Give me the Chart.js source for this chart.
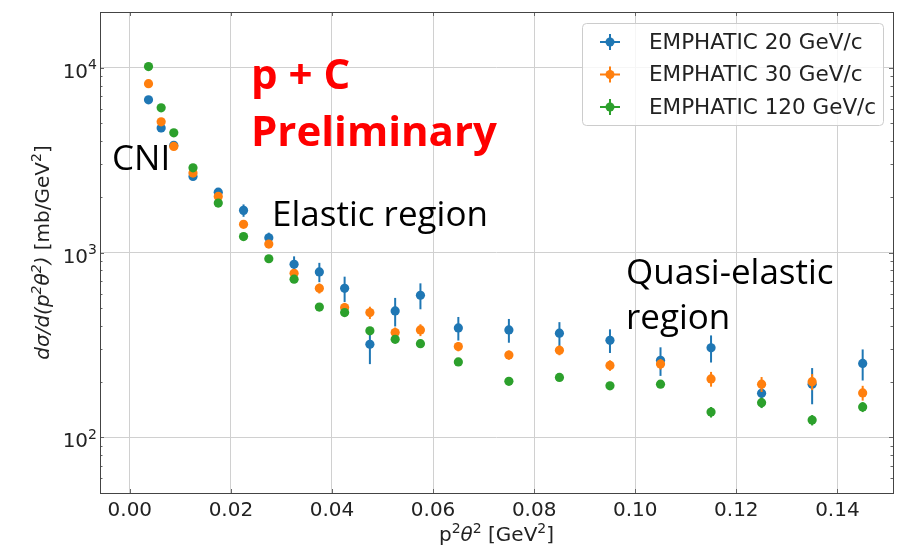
<!DOCTYPE html>
<html>
<head>
<meta charset="utf-8">
<script src="https://cdn.jsdelivr.net/npm/chart.js@4"></script>
<style>
  html, body { margin: 0; padding: 0; background: #fff; }
</style>
</head>
<body>
<canvas id="emphaticPC" width="900" height="547"></canvas>
<script>
// p^2 theta^2 bin centres [GeV^2]
const xValues = [0.0037, 0.0062, 0.0087, 0.0125, 0.0175, 0.0225, 0.0275, 0.0325, 0.0375, 0.0425, 0.0475,
                 0.0525, 0.0575, 0.065, 0.075, 0.085, 0.095, 0.105, 0.115, 0.125, 0.135, 0.145];

// dsigma/d(p^2 theta^2) [mb/GeV^2]
const emphatic20 = [6700, 4720, 3800, 2580, 2120, 1690, 1200, 863, 785, 640, 319,
                    483, 587, 391, 381, 366, 335, 261, 305, 173, 194, 251];
const emphatic30 = [8190, 5090, 3750, 2690, 2010, 1420, 1110, 772, 640, 504, 473,
                    369, 381, 310, 279, 296, 245, 249, 207, 194, 200, 174];
const emphatic120 = [10130, 6060, 4440, 2870, 1850, 1220, 925, 717, 507, 473, 377,
                     339, 321, 256, 201, 211, 190, 194, 137, 154, 124, 146];

// errors
const err20 = [250, 240, 200, 110, 110, 130, 80, 90, 94, 100, 70,
               85, 94, 57, 56, 54, 49, 46, 51, 28, 43, 48];
const err30 = [250, 180, 150, 90, 70, 60, 45, 40, 40, 30, 36,
               24, 28, 18, 16, 18, 16, 16, 19, 18, 20, 16];
const err120 = [200, 150, 110, 70, 50, 35, 25, 20, 15, 15, 14,
                12, 12, 9, 8, 8, 8, 8, 9, 10, 8, 9];

const seriesLabels = ["EMPHATIC 20 GeV/c", "EMPHATIC 30 GeV/c", "EMPHATIC 120 GeV/c"];
const seriesColors = ["#1f77b4", "#ff7f0e", "#2ca02c"];

const xTicks = [0, 0.02, 0.04, 0.06, 0.08, 0.1, 0.12, 0.14];
const yTicks = [100, 1000, 10000];
const yTickExp = ["2", "3", "4"];

const DV = "'DejaVu Sans'";
const ANNO = "'Open Sans'";

function punkte(werte) {
    return werte.map((v, i) => ({ x: xValues[i], y: v }));
}

function runFont(r, size) {
    return (r.italic ? "italic " : "") + (r.sup ? size * 0.7 : size) + "px " + DV;
}

// text made of runs (italic / superscript), baseline at y
function drawRuns(ctx, runs, x, y, size, align) {
    let total = 0;
    runs.forEach(r => {
        ctx.font = runFont(r, size);
        r.w = ctx.measureText(r.t).width;
        total += r.w;
    });
    let cx = align === "right" ? x - total : x - total / 2;
    ctx.textAlign = "left";
    ctx.textBaseline = "alphabetic";
    runs.forEach(r => {
        ctx.font = runFont(r, size);
        ctx.fillText(r.t, cx, r.sup ? y - size * 0.42 : y);
        cx += r.w;
    });
}

const errorBars = {
    id: "errorBars",
    beforeDatasetDraw(chart, args) {
        const ds = chart.data.datasets[args.index];
        const xs = chart.scales.x, ys = chart.scales.y;
        const ctx = chart.ctx;
        ctx.save();
        ctx.strokeStyle = ds.backgroundColor;
        ctx.lineWidth = 2;
        ds.data.forEach((p, i) => {
            const e = ds.errors[i];
            const px = xs.getPixelForValue(p.x);
            ctx.beginPath();
            ctx.moveTo(px, ys.getPixelForValue(Math.max(p.y - e, 1)));
            ctx.lineTo(px, ys.getPixelForValue(p.y + e));
            ctx.stroke();
        });
        ctx.restore();
    }
};

const rahmen = {
    id: "rahmen",
    afterDraw(chart) {
        const ctx = chart.ctx;
        const a = chart.chartArea;
        const xs = chart.scales.x, ys = chart.scales.y;
        ctx.save();

        // inward ticks on all four sides
        ctx.strokeStyle = "#666";
        ctx.lineWidth = 1;
        xTicks.forEach(v => {
            const px = Math.round(xs.getPixelForValue(v)) + 0.5;
            ctx.beginPath();
            ctx.moveTo(px, a.bottom); ctx.lineTo(px, a.bottom - 4);
            ctx.moveTo(px, a.top); ctx.lineTo(px, a.top + 4);
            ctx.stroke();
        });
        for (let k = 1; k <= 4; k++) {
            for (let m = 1; m <= 9; m++) {
                const v = m * Math.pow(10, k);
                if (v < ys.min || v > ys.max) continue;
                const py = Math.round(ys.getPixelForValue(v)) + 0.5;
                const len = m === 1 ? 4 : 2.5;
                ctx.beginPath();
                ctx.moveTo(a.left, py); ctx.lineTo(a.left + len, py);
                ctx.moveTo(a.right, py); ctx.lineTo(a.right - len, py);
                ctx.stroke();
            }
        }

        // spines
        ctx.strokeStyle = "#444";
        ctx.strokeRect(Math.round(a.left) + 0.5, Math.round(a.top) + 0.5,
                       Math.round(a.right - a.left), Math.round(a.bottom - a.top));

        // y tick labels 10^n
        ctx.fillStyle = "#222";
        yTicks.forEach((v, i) => {
            const py = ys.getPixelForValue(v);
            drawRuns(ctx, [{ t: "10" }, { t: yTickExp[i], sup: true }], a.left - 3, py + 10, 20, "right");
        });

        // axis titles
        drawRuns(ctx, [{ t: "p" }, { t: "2", sup: true }, { t: "θ", italic: true }, { t: "2", sup: true },
                       { t: " [GeV" }, { t: "2", sup: true }, { t: "]" }],
                 (a.left + a.right) / 2, 541, 20);
        ctx.save();
        ctx.translate(49, (a.top + a.bottom) / 2);
        ctx.rotate(-Math.PI / 2);
        drawRuns(ctx, [{ t: "dσ/d(p", italic: true }, { t: "2", sup: true, italic: true },
                       { t: "θ", italic: true }, { t: "2", sup: true, italic: true }, { t: ")", italic: true },
                       { t: " [mb/GeV" }, { t: "2", sup: true }, { t: "]" }], 0, 0, 20);
        ctx.restore();

        // annotations
        ctx.textAlign = "left";
        ctx.textBaseline = "alphabetic";
        ctx.fillStyle = "#ff0000";
        ctx.font = "bold 42px " + ANNO;
        ctx.fillText("p + C", 251, 89);
        ctx.fillText("Preliminary", 251, 146);
        ctx.fillStyle = "#000";
        ctx.font = "35px " + ANNO;
        ctx.fillText("CNI", 112, 170);
        ctx.fillText("Elastic region", 272, 226);
        ctx.fillText("Quasi-elastic", 626, 284);
        ctx.fillText("region", 626, 329);

        // legend inside the axes, upper right
        const bw = 301, bh = 102;
        const bx = a.right - 10 - bw, by = a.top + 11;
        ctx.beginPath();
        ctx.roundRect(bx + 0.5, by + 0.5, bw, bh, 4);
        ctx.fillStyle = "rgba(255,255,255,0.8)";
        ctx.fill();
        ctx.strokeStyle = "#cccccc";
        ctx.lineWidth = 1;
        ctx.stroke();
        seriesLabels.forEach((lab, i) => {
            const cy = by + 19 + i * 32.5;
            const mx = bx + 28;
            ctx.strokeStyle = seriesColors[i];
            ctx.lineWidth = 2;
            ctx.beginPath();
            ctx.moveTo(mx - 10, cy); ctx.lineTo(mx + 10, cy);
            ctx.moveTo(mx, cy - 8); ctx.lineTo(mx, cy + 8);
            ctx.stroke();
            ctx.fillStyle = seriesColors[i];
            ctx.beginPath();
            ctx.arc(mx, cy, 4.5, 0, Math.PI * 2);
            ctx.fill();
            ctx.fillStyle = "#222";
            ctx.font = "21.5px " + DV;
            ctx.textAlign = "left";
            ctx.textBaseline = "middle";
            ctx.fillText(lab, bx + 67, cy + 1);
        });

        ctx.restore();
    }
};

new Chart(document.getElementById("emphaticPC"), {
    type: "scatter",
    data: {
        datasets: [
            { label: seriesLabels[0], data: punkte(emphatic20), errors: err20,
              backgroundColor: seriesColors[0], borderColor: seriesColors[0], order: 3 },
            { label: seriesLabels[1], data: punkte(emphatic30), errors: err30,
              backgroundColor: seriesColors[1], borderColor: seriesColors[1], order: 2 },
            { label: seriesLabels[2], data: punkte(emphatic120), errors: err120,
              backgroundColor: seriesColors[2], borderColor: seriesColors[2], order: 1 },
        ],
    },
    options: {
        responsive: false,
        animation: false,
        devicePixelRatio: 1,
        layout: { padding: { top: 12, right: 7, left: 0, bottom: 0 } },
        elements: { point: { radius: 4.6, borderWidth: 0, hoverRadius: 4.6 } },
        plugins: {
            legend: { display: false },
            tooltip: { enabled: false },
        },
        scales: {
            x: {
                type: "linear",
                min: -0.0059,
                max: 0.151,
                afterBuildTicks: s => { s.ticks = xTicks.map(v => ({ value: v })); },
                afterFit: s => { s.height = 54; },
                grid: { color: "#d0d0d0", drawTicks: false },
                border: { display: false },
                ticks: {
                    padding: 6,
                    color: "#222",
                    font: { family: "DejaVu Sans", size: 20 },
                    maxRotation: 0,
                    callback: v => v.toFixed(2),
                },
            },
            y: {
                type: "logarithmic",
                min: 50,
                max: 20000,
                afterBuildTicks: s => { s.ticks = yTicks.map(v => ({ value: v })); },
                afterFit: s => { s.width = 100; },
                grid: { color: "#d0d0d0", drawTicks: false },
                border: { display: false },
                ticks: { display: false },
            },
        },
    },
    plugins: [errorBars, rahmen],
});
</script>
</body>
</html>
